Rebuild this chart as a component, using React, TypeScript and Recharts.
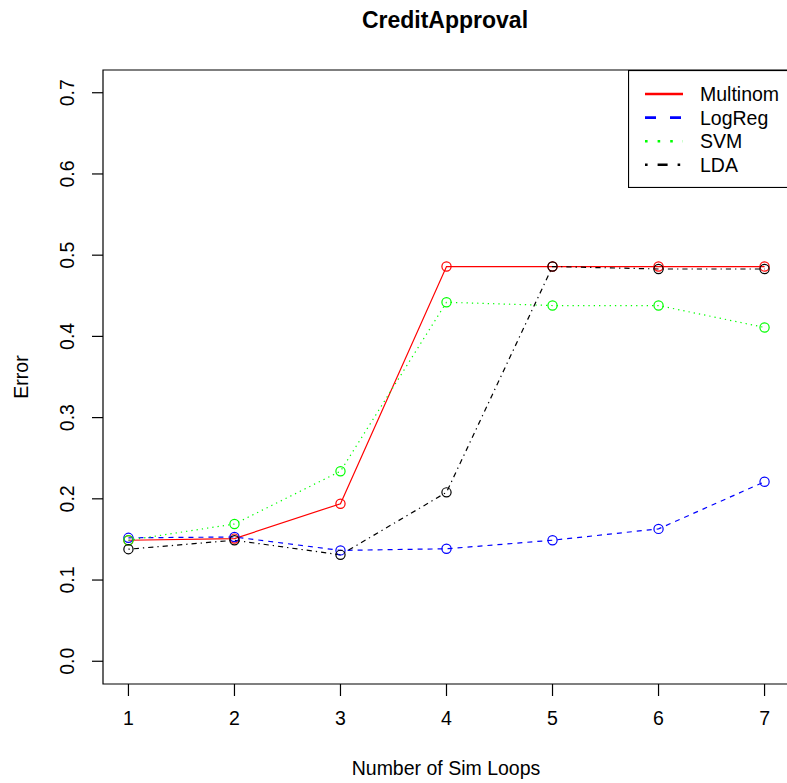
import React from "react";
import {
  LineChart,
  Line,
  XAxis,
  YAxis,
  Legend,
  ReferenceArea,
} from "recharts";

// x values (number of sim loops)
const loops = [1, 2, 3, 4, 5, 6, 7];

// error per model
const multinom = [0.149, 0.151, 0.194, 0.486, 0.486, 0.486, 0.486];
const logReg = [0.152, 0.153, 0.1365, 0.1385, 0.149, 0.163, 0.221];
const svm = [0.149, 0.169, 0.234, 0.442, 0.438, 0.438, 0.411];
const lda = [0.138, 0.149, 0.131, 0.208, 0.486, 0.483, 0.483];

const xTicks = [1, 2, 3, 4, 5, 6, 7];
const yTicks = [0, 0.1, 0.2, 0.3, 0.4, 0.5, 0.6, 0.7];
const yTickLabels = ["0.0", "0.1", "0.2", "0.3", "0.4", "0.5", "0.6", "0.7"];

const seriesNames = ["Multinom", "LogReg", "SVM", "LDA"];
const seriesValues = [multinom, logReg, svm, lda];

// R-ish line types
const styles: Record<string, { color: string; dash?: string; legendDash?: string }> = {
  Multinom: { color: "#FF0000" },
  LogReg: { color: "#0000FF", dash: "5 5", legendDash: "11 14" },
  SVM: { color: "#00FF00", dash: "1.3 4", legendDash: "2.6 10" },
  LDA: { color: "#000000", dash: "1.3 4 5.2 4", legendDash: "2.6 10 10 10" },
};

const FONT = "'Liberation Sans', Arial, Helvetica, sans-serif";
const FS = 19.5;

const data = loops.map((loop, i) => {
  const row: Record<string, number> = { loop };
  seriesNames.forEach((name, s) => {
    row[name] = seriesValues[s][i];
  });
  return row;
});

const XTick = (props: any) => {
  const { x, y, payload } = props;
  return (
    <text x={x} y={y + 22} textAnchor="middle" dominantBaseline="central"
      fontFamily={FONT} fontSize={FS} fill="#000">
      {payload.value}
    </text>
  );
};

const YTick = (props: any) => {
  const { x, y, payload } = props;
  const cx = x - 25;
  const idx = yTicks.indexOf(payload.value);
  return (
    <text x={cx} y={y} transform={`rotate(-90, ${cx}, ${y})`} textAnchor="middle"
      dominantBaseline="central" fontFamily={FONT} fontSize={FS} fill="#000">
      {idx >= 0 ? yTickLabels[idx] : payload.value}
    </text>
  );
};

const LegendBox = (props: any) => {
  const items = [...(props.payload ?? [])].sort(
    (a: any, b: any) => seriesNames.indexOf(a.value) - seriesNames.indexOf(b.value)
  );
  return (
    <svg width={170} height={118} style={{ display: "block" }}>
      <rect x={0.5} y={0.5} width={180} height={117} fill="#fff" stroke="#000" strokeWidth={1.2} />
      {items.map((it: any, i: number) => {
        const st = styles[it.value];
        const cy = 24 + i * 23.6;
        return (
          <g key={it.value}>
            <line x1={17} x2={55} y1={cy} y2={cy} stroke={st.color} strokeWidth={2.6}
              strokeDasharray={st.legendDash} />
            <text x={72} y={cy} dominantBaseline="central" fontFamily={FONT} fontSize={FS} fill="#000">
              {it.value}
            </text>
          </g>
        );
      })}
    </svg>
  );
};

const makeDot = (color: string) => (p: any) => (
  <circle key={`${color}-${p.index}`} cx={p.cx} cy={p.cy} r={4.6} fill="none" stroke={color} strokeWidth={1.2} />
);

export default function App() {
  return (
    <div style={{ position: "absolute", left: 0, top: 0, width: 787, height: 783, overflow: "hidden", background: "#fff" }}>
      <div style={{ position: "absolute", left: 103, width: 684, top: 7, textAlign: "center",
        fontFamily: FONT, fontWeight: "bold", fontSize: 23, lineHeight: "26px" }}>
        CreditApproval
      </div>
      <LineChart width={790} height={783} data={data}
        margin={{ top: 70, right: 0, bottom: 0, left: 0 }}>
        <XAxis dataKey="loop" type="number" domain={[0.76, 7.24]} ticks={xTicks}
          axisLine={false} tickSize={12} tickMargin={0} height={99}
          tickLine={{ stroke: "#000", strokeWidth: 1.2 }} tick={<XTick />} interval={0}
          label={{
            value: "Number of Sim Loops",
            content: (lp: any) => {
              const vb = lp.viewBox;
              return (
                <text x={446} y={vb.y + 84} textAnchor="middle" dominantBaseline="central"
                  fontFamily={FONT} fontSize={FS} fill="#000">Number of Sim Loops</text>
              );
            },
          }} />
        <YAxis type="number" domain={[-0.028, 0.728]} ticks={yTicks} width={103}
          axisLine={false} tickSize={11} tickMargin={0} interval={0}
          tickLine={{ stroke: "#000", strokeWidth: 1.2 }} tick={<YTick />}
          label={{
            value: "Error",
            content: (lp: any) => {
              const vb = lp.viewBox;
              const cy = vb.y + vb.height / 2;
              return (
                <text x={21} y={cy} transform={`rotate(-90, 21, ${cy})`} textAnchor="middle"
                  dominantBaseline="central" fontFamily={FONT} fontSize={FS} fill="#000">Error</text>
              );
            },
          }} />
        <ReferenceArea x1={0.76} x2={7.24} y1={-0.028} y2={0.728} ifOverflow="visible"
          fill="none" fillOpacity={0} stroke="#000" strokeWidth={1.2} />
        {seriesNames.map((name) => (
          <Line key={name} dataKey={name} name={name} type="linear"
            stroke={styles[name].color} strokeWidth={1.2}
            strokeDasharray={styles[name].dash}
            dot={makeDot(styles[name].color)} activeDot={false}
            isAnimationActive={false} />
        ))}
        <Legend layout="horizontal" align="center" verticalAlign="middle"
          content={<LegendBox />}
          wrapperStyle={{ left: 628, top: 70, width: 170, height: 118 }} />
      </LineChart>
    </div>
  );
}
